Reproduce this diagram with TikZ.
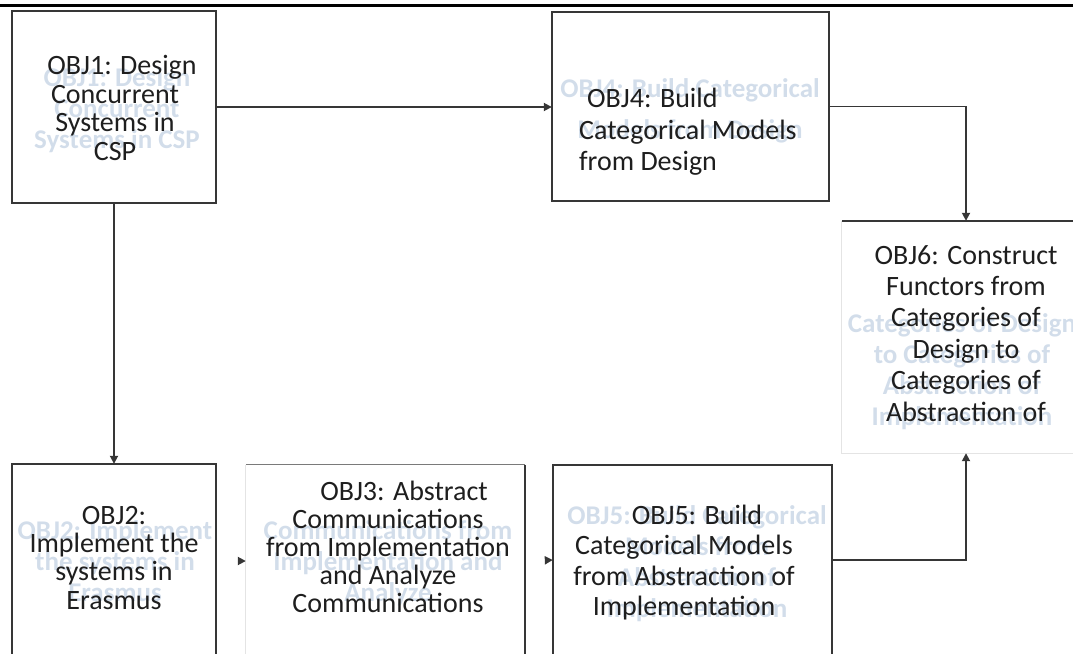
\documentclass[tikz,border=0pt]{standalone}
\usepackage{fontspec}
\setmainfont{Carlito}
\usetikzlibrary{arrows.meta,calc}
\definecolor{ink}{HTML}{1E1E1E}
\definecolor{edge}{HTML}{363636}
\definecolor{midedge}{HTML}{7A7A7A}
\definecolor{faint}{HTML}{E4E4E4}
\definecolor{ghost}{HTML}{D2DDEA}
\begin{document}
\begin{tikzpicture}[x=1pt,y=-1pt,
  area/.style={inner sep=0pt,draw=none},
  frame/.style={draw=edge,line width=2pt},
  softframe/.style={draw=midedge,line width=1.3pt},
  faintframe/.style={draw=faint,line width=1pt},
  conn/.style={draw=edge,line width=1.8pt,-{Triangle[length=8pt,width=8pt]}},
  tiponly/.style={draw=white,line width=1.8pt,shorten <=3pt,-{Triangle[length=8pt,width=8pt,color=edge]}},
  label/.style={text=ink,align=center,inner sep=0pt,anchor=north},
  ghosttext/.style={text=ghost,align=center,inner sep=0pt,anchor=north,
    font=\fontsize{27}{31}\selectfont\bfseries},
]
\useasboundingbox (0,0) rectangle (1073,653);

% header rule
\draw[line width=3.5pt,black] (0,5.7) -- (1073,5.7);

% box areas
\node[area,minimum width=204pt,minimum height=192pt] (o1) at (114,107) {};
\node[area,minimum width=277pt,minimum height=189pt] (o4) at (690.5,106.5) {};
\node[area,minimum width=248pt,minimum height=232pt] (o6) at (966,337) {};
\node[area,minimum width=204pt,minimum height=194pt] (o2) at (114,561) {};
\node[area,minimum width=279pt,minimum height=192pt] (o3) at (385.5,561) {};
\node[area,minimum width=279pt,minimum height=190pt] (o5) at (692.5,560) {};

% faint background lettering
\node[ghosttext] (g1) at (117,67) {OBJ1: Design\\Concurrent\\Systems in CSP};
\node[ghosttext,font=\fontsize{27}{41}\selectfont\bfseries] (g4) at (690,78) {OBJ4: Build Categorical\\Models from Design};
\node[ghosttext] (g6) at (962,313) {Categories of Design\\to Categories of\\Abstraction of\\Implementation};
\node[ghosttext] (g2) at (115,520) {OBJ2: Implement\\the systems in\\Erasmus};
\node[ghosttext] (g3) at (388,520) {Communications from\\Implementation and\\Analyze};
\node[ghosttext] (g5) at (697,505) {OBJ5: Build Categorical\\Models from\\Abstraction of\\Implementation};

% box outlines
\draw[frame] (o1.north west) rectangle (o1.south east);
\draw[frame] (o4.north west) rectangle (o4.south east);
\draw[faintframe] (o6.north west) -- (o6.south west) -- (o6.south east);
\draw[draw=edge,line width=1.5pt] (o6.north west) -- (o6.north east);
\draw[frame] (o2.south west) -- (o2.north west) -- (o2.north east) -- (o2.south east);
\draw[faintframe] (o3.north west) -- (o3.south west);
\draw[softframe] (o3.north west) -- (o3.north east);
\draw[frame] (o3.north east) -- (o3.south east);
\draw[frame] (o5.south west) -- (o5.north west) -- (o5.north east) -- (o5.south east);

% box texts
\node[label,font=\fontsize{28}{28.7}\selectfont] (t1) at (115,55)
  {\hspace*{14pt}OBJ1: Design\\Concurrent\\Systems in\\CSP};
\node[label,align=left,anchor=north west,font=\fontsize{28}{31.5}\selectfont] (t4) at (579,88)
  {\hspace*{8pt}OBJ4: Build\\Categorical Models\\from Design};
\node[label,font=\fontsize{28}{31.4}\selectfont] (t6) at (966,245)
  {OBJ6: Construct\\Functors from\\Categories of\\Design to\\Categories of\\Abstraction of};
\node[label,font=\fontsize{28}{28.3}\selectfont] (t2) at (114,506)
  {OBJ2:\\Implement the\\systems in\\Erasmus};
\node[label,font=\fontsize{28}{28}\selectfont] (t3) at (388,481)
  {\hspace*{32pt}OBJ3: Abstract\\Communications\\from Implementation\\and Analyze\\Communications};
\node[label,font=\fontsize{28}{30.2}\selectfont] (t5) at (684,505)
  {\hspace*{26pt}OBJ5: Build\\Categorical Models\\from Abstraction of\\Implementation};

% connectors
\draw[conn] (o1.east) -- (o1.east -| o4.west);
\draw[conn] (o4.east) -| (o6.north);
\draw[conn] (o1.south) -- (o2.north);
\draw[conn] (o5.east) -| (o6.south);
\draw[tiponly] (o2.east) -- (o3.west);
\draw[tiponly] (o3.east) -- (o5.west);
\end{tikzpicture}
\end{document}
